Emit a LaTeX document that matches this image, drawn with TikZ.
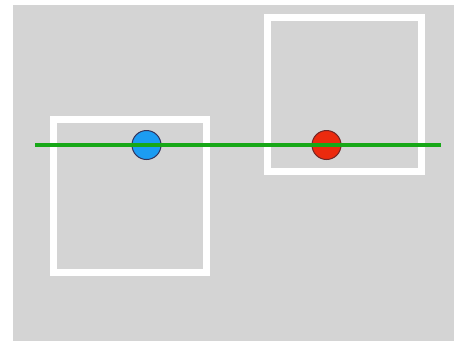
\documentclass[tikz,border=0pt]{standalone}
\usetikzlibrary{calc}
\definecolor{bg}{HTML}{D4D4D4}
\definecolor{lineg}{HTML}{17A817}
\definecolor{blueb}{HTML}{1C9CF2}
\definecolor{redb}{HTML}{EC2A0E}
\tikzset{
  frame/.style={draw=white, line width=7pt},
  dot/.style={circle, minimum size=29pt, inner sep=0pt, line width=1pt},
}
\begin{document}
\begin{tikzpicture}[x=1pt,y=-1pt]
  \useasboundingbox (0,0) rectangle (454,341);
  \fill[white] (0,0) rectangle (454,341);
  \fill[bg] (13,5) rectangle (454,341);
  \draw[frame] (53.5,119) rectangle (206.5,272.5);
  \draw[frame] (267.5,17.5) rectangle (421,171);
  \node[dot, fill=blueb, draw=blue!20!black!80] (b) at (146.5,145) {};
  \node[dot, fill=redb, draw=red!35!black!85] (r) at (326.5,145) {};
  \coordinate (L) at (35,145);
  \coordinate (R) at (441,145);
  \draw[lineg, line width=3.5pt] (L) -- (R);
\end{tikzpicture}
\end{document}
